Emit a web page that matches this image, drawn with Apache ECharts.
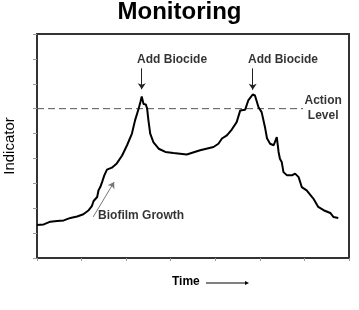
<!DOCTYPE html>
<html>
<head>
<meta charset="utf-8">
<script src="https://cdn.jsdelivr.net/npm/echarts@6/dist/echarts.min.js"></script>
<style>html,body{margin:0;padding:0;background:#fff;}#c{width:359px;height:310px;}</style>
</head>
<body>
<div id="c"></div>
<script>
// ---- data ----
var timeX = [0, 0.15, 0.30, 0.45, 0.60, 0.75, 0.90, 1.04, 1.16, 1.23, 1.27, 1.35, 1.38, 1.42, 1.46, 1.51, 1.57, 1.68, 1.79, 1.91,
  2.02, 2.13, 2.20, 2.28, 2.32, 2.35, 2.37, 2.39, 2.44, 2.47, 2.50, 2.54, 2.61, 2.73, 2.88, 3.06, 3.36, 3.66, 3.96, 4.07,
  4.15, 4.26, 4.37, 4.48, 4.56, 4.67, 4.74, 4.84, 4.89, 4.97, 5.04, 5.12, 5.16, 5.23, 5.31, 5.38, 5.40, 5.42, 5.45, 5.49,
  5.53, 5.61, 5.72, 5.79, 5.87, 5.94, 6.05, 6.20, 6.31, 6.43, 6.58, 6.65, 6.76];
var indicator = [1.33, 1.35, 1.46, 1.49, 1.51, 1.61, 1.67, 1.76, 1.92, 2.08, 2.29, 2.45, 2.72, 2.85, 3.05, 3.32, 3.55, 3.63, 3.80, 4.12,
  4.53, 5.00, 5.53, 6.00, 6.27, 6.49, 6.47, 6.19, 6.17, 6.01, 5.53, 5.00, 4.66, 4.39, 4.26, 4.22, 4.16, 4.33, 4.46, 4.59,
  4.80, 4.93, 5.16, 5.46, 5.93, 5.96, 6.33, 6.57, 6.53, 6.06, 5.86, 5.21, 4.81, 4.59, 4.53, 4.86, 4.86, 4.26, 3.99, 3.86,
  3.45, 3.32, 3.32, 3.39, 3.25, 2.85, 2.72, 2.39, 2.05, 1.92, 1.81, 1.65, 1.61];
var actionLevelX = [0, 5.97];
var actionLevelY = [6, 6];
var annoX = [3.03, 5.52, 6.42, 1.37];
var annoY = [7.98, 7.98, 6.0, 1.68];
var annoText = ['Add Biocide', 'Add Biocide', 'Action\nLevel', 'Biofilm Growth'];
var arrowFrom = [[2.35, 7.62], [4.84, 7.62], [1.26, 1.65]];
var arrowTo = [[2.35, 6.78], [4.84, 6.76], [1.73, 3.05]];
var titleText = 'Monitoring';
var yName = 'Indicator';
var xName = 'Time';

var FONT = '"Liberation Sans", Arial, sans-serif';
var chart = echarts.init(document.getElementById('c'), null, {renderer: 'canvas'});

var curve = timeX.map(function (x, i) { return [x, indicator[i]]; });
var action = actionLevelX.map(function (x, i) { return [x, actionLevelY[i]]; });
var annos = annoX.map(function (x, i) {
  return {
    value: [x, annoY[i], annoText[i]],
    label: {align: i === 3 ? 'left' : 'center'}
  };
});
var arrows = arrowFrom.map(function (f, i) {
  var thin = i === 2;
  return [
    {coord: f, lineStyle: {color: thin ? '#777' : '#222', width: 1, type: 'solid'}, symbolSize: thin ? 5 : 6},
    {coord: arrowTo[i]}
  ];
});

chart.setOption({
  animation: false,
  backgroundColor: '#fff',
  title: {
    text: titleText, left: 'center', top: -5,
    textStyle: {fontFamily: FONT, fontSize: 24, fontWeight: 'bold', color: '#000'}
  },
  grid: {left: 37, right: 10, top: 34, bottom: 52, containLabel: false, outerBoundsMode: 'none',
    show: true, borderColor: '#333', borderWidth: 2, backgroundColor: 'transparent'},
  xAxis: {
    type: 'value', min: 0, max: 7, interval: 1,
    axisLine: {show: true, lineStyle: {color: '#333', width: 2}},
    axisTick: {show: true, length: 3, lineStyle: {color: '#999', width: 1}},
    axisLabel: {show: false}, splitLine: {show: false}
  },
  yAxis: {
    type: 'value', min: 0, max: 9, interval: 1,
    name: yName, nameLocation: 'middle', nameGap: 20, nameRotate: 90,
    nameTextStyle: {fontFamily: FONT, fontSize: 15, color: '#000'},
    axisLine: {show: true, lineStyle: {color: '#333', width: 2}},
    axisTick: {show: true, length: 4, lineStyle: {color: '#999', width: 1}},
    axisLabel: {show: false}, splitLine: {show: false}
  },
  series: [
    {
      type: 'line', data: action, showSymbol: false, silent: true,
      lineStyle: {color: '#555', width: 1, type: [7, 4]}
    },
    {
      type: 'line', data: curve, showSymbol: false, smooth: false,
      lineStyle: {color: '#000', width: 2},
      markLine: {
        silent: true, symbol: ['none', 'arrow'], symbolSize: 6,
        label: {show: false},
        data: arrows
      }
    },
    {
      type: 'scatter', data: annos, symbolSize: 0, silent: true,
      label: {
        show: true, position: 'inside', verticalAlign: 'middle',
        fontFamily: FONT, fontSize: 12, fontWeight: 'bold', color: '#000', lineHeight: 15,
        formatter: function (p) { return p.value[2]; }
      }
    }
  ],
  graphic: [
    {type: 'text', left: 172, top: 276, style: {text: xName, font: 'bold 12px ' + FONT, fill: '#000'}},
    {type: 'line', shape: {x1: 206, y1: 283, x2: 246, y2: 283}, style: {stroke: '#000', lineWidth: 1}},
    {type: 'polygon', shape: {points: [[249, 283], [245, 281], [245, 285]]}, style: {fill: '#000'}}
  ]
});
</script>
</body>
</html>
